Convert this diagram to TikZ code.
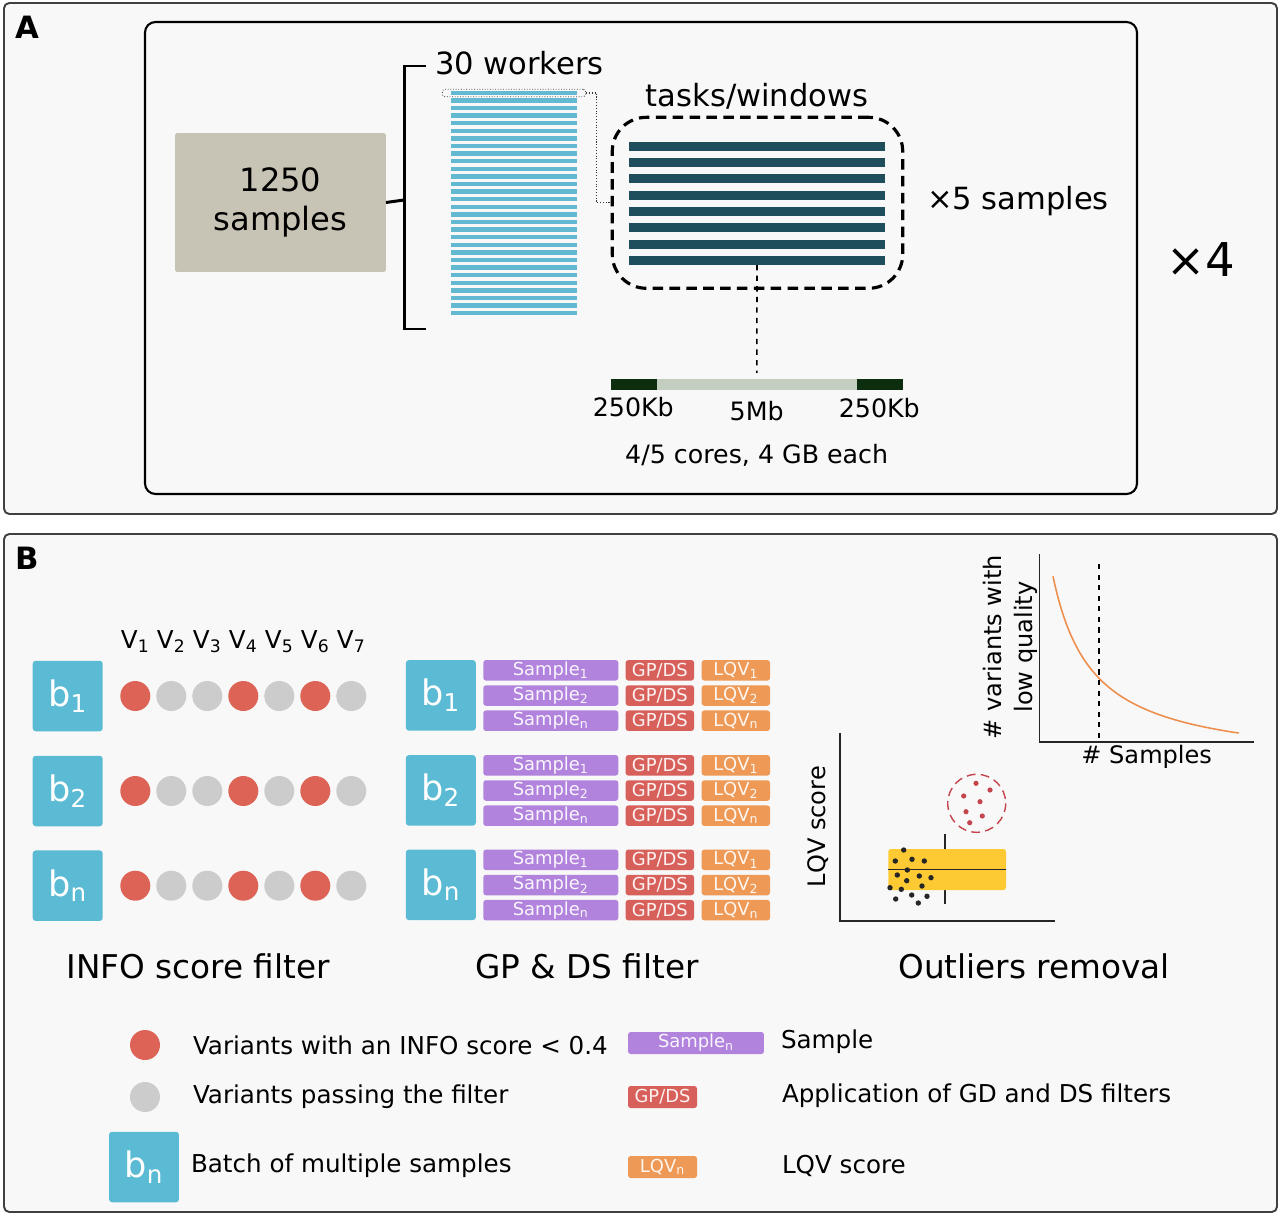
\documentclass[tikz,border=0pt]{standalone}
\usepackage{fontspec}
\setmainfont{DejaVu Sans}
\definecolor{panelbg}{HTML}{F8F8F8}
\definecolor{beige}{HTML}{C8C4B5}
\definecolor{wblue}{HTML}{62B9D1}
\definecolor{bblue}{HTML}{5CBBD4}
\definecolor{teal}{HTML}{1E4D5C}
\definecolor{dgreen}{HTML}{0C2E0E}
\definecolor{sage}{HTML}{C4CEC0}
\definecolor{cr}{HTML}{DD6356}
\definecolor{cg}{HTML}{CCCCCC}
\definecolor{purp}{HTML}{B183DD}
\definecolor{gpred}{HTML}{D8605A}
\definecolor{lqvor}{HTML}{EE9955}
\definecolor{ybox}{HTML}{FECA33}
\definecolor{corange}{HTML}{EE8F4E}
\definecolor{dred}{HTML}{C4454E}
\begin{document}
\begin{tikzpicture}[x=0.02cm,y=-0.02cm,
  txt/.style={inner sep=0pt,outer sep=0pt},
  fA/.style={txt,font=\fontsize{17.4}{21}\selectfont},
  fS/.style={txt,font=\fontsize{18.3}{22.2}\selectfont,align=center},
  fK/.style={txt,font=\fontsize{14.4}{17}\selectfont},
  fX/.style={txt,font=\fontsize{26.5}{30}\selectfont},
  fT/.style={txt,font=\fontsize{18.6}{22}\selectfont},
  fL/.style={txt,font=\fontsize{14}{17}\selectfont},
  fC/.style={txt,font=\fontsize{13.7}{17}\selectfont},
  fP/.style={txt,font=\fontsize{17.5}{20}\selectfont\bfseries},
  bbox/.style={fill=bblue,rounded corners=1.7pt,minimum width=1.4cm,minimum height=1.41cm,inner sep=0pt,text=white,font=\fontsize{20}{22}\selectfont},
  sbox/.style={rounded corners=1.5pt,minimum height=0.41cm,inner sep=0pt,font=\fontsize{10.2}{11}\selectfont},
  sampbox/.style={sbox,fill=purp,minimum width=2.7cm,text=white!92!purp},
  gpbox/.style={sbox,fill=gpred,minimum width=1.366cm,text=white!92!gpred},
  lqvbox/.style={sbox,fill=lqvor,minimum width=1.366cm,text=white!92!lqvor},
  brk/.style={line width=1.7pt},
  axisl/.style={line width=0.9pt,black!85},
]
\useasboundingbox[fill=white] (0,0) rectangle (1280,1217);

% ---------------- Panel A ----------------
\draw[black!75,line width=1.1pt,fill=panelbg,rounded corners=3pt] (4,3) rectangle (1277,514);
\node[fP] (lA) at (27,27) {A};
\draw[black,line width=1.2pt,fill=panelbg,rounded corners=6pt] (145,22) rectangle (1137,494);

\node[fS,fill=beige,minimum width=4.22cm,minimum height=2.78cm,rounded corners=1pt] (samples) at (280.5,202.5) {1250\\samples};
\coordinate (bmid) at (404,200);
\draw[brk] (samples.east) -- (bmid);
\draw[brk] (426,66) -- (404,66) -- (404,329) -- (426,329);
\node[fA,anchor=west] (workers) at (435,63) {30 workers};

\foreach \i in {0,...,29}
  \fill[wblue] (451,{92.8+\i*7.6-2.2}) rectangle (576.7,{92.8+\i*7.6+2.2});
\node[draw=black!70,densely dotted,line width=0.5pt,rounded corners=1.5pt,minimum width=2.868cm,minimum height=0.148cm,inner sep=0pt] (wtop) at (514,93) {};

\node[fA] (tasklab) at (757,96) {tasks/windows};
\node[draw=black,line width=1.8pt,dash pattern=on 6pt off 3.6pt,rounded corners=0.68cm,minimum width=5.81cm,minimum height=3.42cm,inner sep=0pt] (tasks) at (757.5,202.8) {};
\foreach \i in {1,...,8}
  \node[fill=teal,minimum width=5.12cm,minimum height=0.18cm,inner sep=0pt] (tb\i) at (757,{146.2+(\i-1)*16.3}) {};
\draw[black!80,densely dotted,line width=0.6pt] (wtop.east) -- (596.7,93) -- (596.7,202.8) -- (tasks.west);

\node[fA] (x5) at (1018,201) {×5 samples};
\node[fX] (x4) at (1201,260) {×4};

\node[fill=sage,minimum width=5.834cm,minimum height=0.214cm,inner sep=0pt] (gbar) at (756.85,384.65) {};
\fill[dgreen] (611,379.3) rectangle (657.3,390);
\fill[dgreen] (856.7,379.3) rectangle (902.7,390);
\draw[dashed,line width=0.9pt,shorten >=3.4pt] (tb8.south) -- (gbar.north);
\node[fK] (k1) at (633.3,406.7) {250Kb};
\node[fK] (k2) at (756.7,411) {5Mb};
\node[fK] (k3) at (879.3,408) {250Kb};
\node[fK] (cores) at (756.7,455) {4/5 cores, 4 GB each};

% ---------------- Panel B ----------------
\draw[black!75,line width=1.1pt,fill=panelbg,rounded corners=3pt] (4,534) rectangle (1277,1212);
\node[fP] (lB) at (27,558) {B};

\foreach \k/\s in {0/1,1/2,2/3,3/4,4/5,5/6,6/7}
  \node[fL] (v\s) at ({135.3+36*\k},641.7) {V\textsubscript{\s}};

\foreach \r/\sub/\yy in {1/1/696,2/2/791,3/n/885.7}{
  \node[bbox] (bL\r) at (67.7,\yy) {b\textsubscript{\sub}};
  \foreach \c [count=\k from 0] in {cr,cg,cg,cr,cg,cr,cg}
    \fill[\c] ({135.3+36*\k},\yy) circle[radius=15];
}

\foreach \g/\sub/\top in {1/1/660,2/2/755,3/n/849.5}{
  \node[bbox] (bG\g) at (440.85,{\top+35.35}) {b\textsubscript{\sub}};
  \foreach \j/\ss in {0/1,1/2,2/n}{
    \node[sampbox] (s\g\j) at (550.8,{\top+10.3+25.2*\j}) {Sample\textsubscript{\ss}};
    \node[gpbox] (g\g\j) at (659.85,{\top+10.3+25.2*\j}) {GP/DS};
    \node[lqvbox] (q\g\j) at (735.85,{\top+10.3+25.2*\j}) {LQV\textsubscript{\ss}};
  }
}

\node[fT] (t1) at (198,966) {INFO score filter};
\node[fT] (t2) at (587,966) {GP \& DS filter};
\node[fT] (t3) at (1034,966) {Outliers removal};

% upper chart
\draw[axisl] (1039.3,554) -- (1039.3,741.7) -- (1254,741.7);
\draw[corange,line width=0.9pt] plot[domain=1053:1238.7,samples=90] (\x,{742-(7620/(\x-1013)-24.8)});
\draw[dashed,line width=0.8pt] (1099,564) -- (1099,741.7);
\node[fC,rotate=90,align=center,font=\fontsize{13.7}{17.5}\selectfont] (ylab1) at (1010,647) {\# variants with\\low quality};
\node[fC] (xlab1) at (1146.7,756.7) {\# Samples};

% lower chart
\draw[axisl] (840,733.3) -- (840,921) -- (1055,921);
\node[fC,rotate=90] (ylab2) at (818.3,826.7) {LQV score};
\draw[black!85,line width=0.8pt] (945,834.3) -- (945,904.3);
\fill[ybox,rounded corners=1.5pt] (888.3,849) rectangle (1006,890);
\draw[black!85,line width=0.8pt] (888.3,869.3) -- (1006,869.3);
\foreach \px/\py in {903.7/850,895.3/861,912/859.3,924.3/861,907.3/870,897.3/875,919.3/876,931/877.7,906.7/880.7,890/887.7,901.3/889.3,922/886,895.7/899,911.7/895,927/896.3,918.3/903}
  \fill[black!85] (\px,\py) circle[radius=2.7];
\draw[dred,line width=0.8pt,dash pattern=on 5pt off 3pt] (976.7,803.3) circle[radius=29];
\foreach \px/\py in {976/783.3,990/790,963.7/796,980/801.7,966/811.7,982.3/816,969.7/822.7}
  \fill[dred] (\px,\py) circle[radius=2.6];

% legend
\fill[cr] (145,1045) circle[radius=15];
\node[fL,anchor=west] (lg1) at (193,1045) {Variants with an INFO score < 0.4};
\fill[cg] (145,1097) circle[radius=15];
\node[fL,anchor=west] (lg2) at (193,1097) {Variants passing the filter};
\node[bbox] (lgb) at (144,1167) {b\textsubscript{n}};
\node[fL,anchor=west] (lg3) at (191,1166) {Batch of multiple samples};

\node[sampbox,minimum width=2.72cm,minimum height=0.44cm] (lgs) at (696,1043) {Sample\textsubscript{n}};
\node[fL,anchor=west] (lg4) at (781,1042) {Sample};
\node[gpbox,minimum width=1.38cm,minimum height=0.44cm] (lgg) at (662.5,1097) {GP/DS};
\node[fL,anchor=west] (lg5) at (782,1096) {Application of GD and DS filters};
\node[lqvbox,minimum width=1.38cm,minimum height=0.44cm] (lgq) at (662.5,1167) {LQV\textsubscript{n}};
\node[fL,anchor=west] (lg6) at (782,1166) {LQV score};
\end{tikzpicture}
\end{document}
